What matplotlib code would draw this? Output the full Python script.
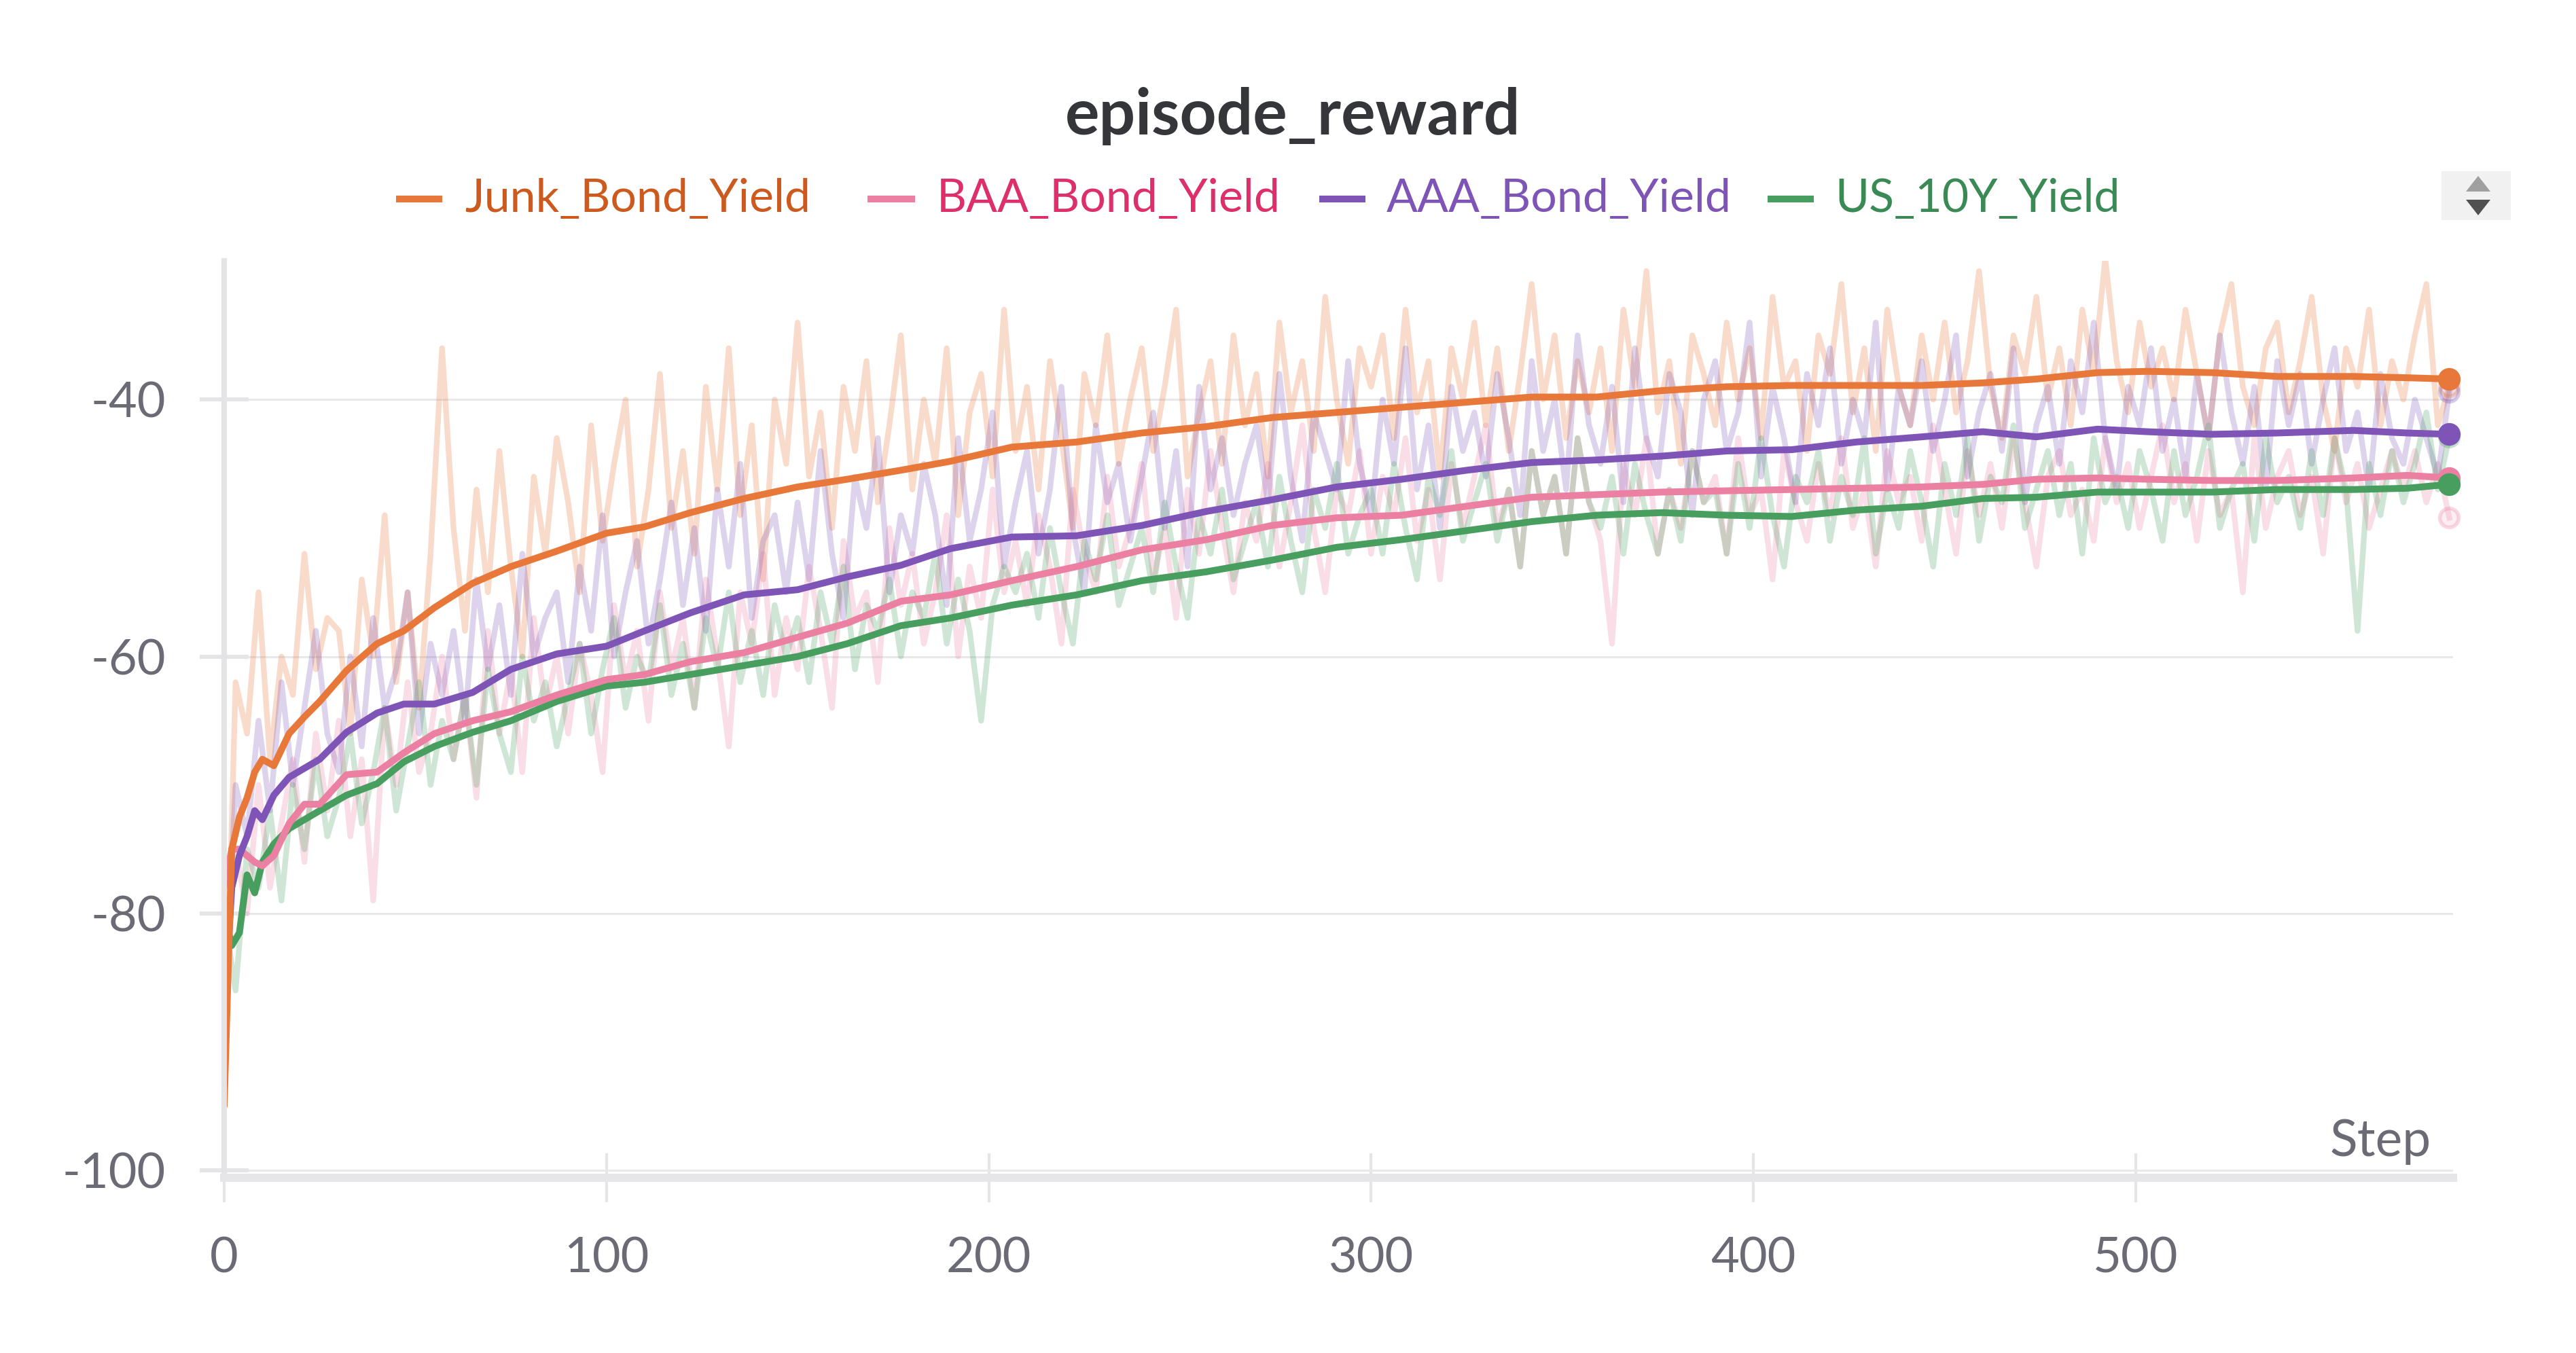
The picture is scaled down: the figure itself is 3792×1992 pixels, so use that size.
import matplotlib.pyplot as plt
from matplotlib.lines import Line2D
from matplotlib.patches import Rectangle, Polygon
from matplotlib.colors import to_rgba

plt.rcParams['font.family'] = ['Lato', 'DejaVu Sans']

# ---- data ----
series_names = ['Junk_Bond_Yield', 'BAA_Bond_Yield', 'AAA_Bond_Yield', 'US_10Y_Yield']

raw_steps = list(range(0, 583, 3))

junk_raw = [
    -95, -62, -66, -55, -68, -60, -63, -52, -61, -57,
    -58, -66, -54, -60, -49, -62, -55, -64, -52, -36,
    -50, -58, -47, -55, -44, -53, -60, -46, -52, -43,
    -48, -55, -42, -51, -45, -40, -53, -47, -38, -50,
    -44, -52, -39, -47, -36, -49, -42, -54, -40, -45,
    -34, -46, -41, -50, -39, -44, -37, -48, -42, -35,
    -47, -40, -45, -36, -49, -41, -38, -46, -33, -44,
    -39, -47, -37, -43, -50, -38, -42, -35, -45, -40,
    -36, -44, -39, -33, -46, -41, -37, -45, -35, -42,
    -38, -46, -34, -41, -37, -44, -32, -40, -45, -36,
    -39, -35, -43, -33, -41, -37, -46, -36, -40, -34,
    -42, -36, -44, -38, -31, -40, -35, -43, -37, -41,
    -36, -44, -33, -39, -30, -41, -37, -45, -35, -38,
    -42, -34, -40, -36, -43, -32, -39, -37, -44, -35,
    -38, -31, -41, -36, -44, -33, -39, -42, -35, -40,
    -34, -41, -37, -30, -39, -43, -35, -38, -32, -40,
    -36, -42, -33, -38, -29, -37, -41, -34, -39, -36,
    -40, -33, -38, -43, -35, -31, -39, -42, -36, -34,
    -41, -37, -32, -40, -44, -36, -39, -33, -42, -37,
    -40, -35, -31, -42, -39,
]
baa_raw = [
    -78, -75, -80, -70, -78, -73, -68, -76, -66, -72,
    -65, -74, -68, -79, -64, -70, -62, -69, -66, -60,
    -68, -63, -71, -58, -66, -61, -69, -57, -64, -60,
    -66, -59, -63, -69, -56, -62, -58, -65, -55, -61,
    -57, -64, -54, -60, -67, -55, -59, -52, -63, -57,
    -61, -53, -58, -64, -51, -57, -55, -62, -50, -56,
    -52, -59, -55, -49, -60, -53, -57, -47, -55, -51,
    -56, -49, -53, -59, -47, -52, -55, -46, -53, -50,
    -45, -54, -50, -57, -47, -52, -44, -50, -55, -48,
    -51, -45, -53, -48, -42, -50, -55, -47, -49, -44,
    -52, -46, -49, -43, -51, -47, -54, -45, -50, -46,
    -42, -50, -47, -53, -44, -49, -46, -52, -43, -48,
    -51, -59, -45, -49, -43, -52, -47, -50, -44, -48,
    -46, -52, -43, -49, -47, -54, -44, -48, -51, -45,
    -49, -43, -50, -47, -53, -44, -48, -46, -51, -42,
    -47, -52, -44, -49, -45, -50, -43, -48, -53, -46,
    -44, -49, -47, -51, -43, -48, -45, -50, -46, -42,
    -48, -45, -51, -44, -49, -47, -55, -43, -50, -46,
    -44, -49, -46, -52, -43, -48, -45, -50, -47, -44,
    -47, -44, -48, -45, -49.2,
]
aaa_raw = [
    -88, -70, -74, -65, -72, -62, -70, -64, -58, -66,
    -69, -60, -67, -57, -64, -61, -55, -66, -59, -63,
    -58, -65, -54, -61, -56, -63, -52, -60, -57, -55,
    -62, -53, -58, -49, -60, -55, -51, -59, -54, -48,
    -56, -50, -58, -47, -53, -45, -57, -51, -49, -55,
    -48, -54, -44, -52, -57, -46, -50, -43, -55, -49,
    -52, -45, -49, -56, -43, -51, -47, -41, -53, -48,
    -44, -52, -47, -39, -50, -55, -42, -48, -45, -51,
    -46, -41, -50, -44, -53, -39, -47, -43, -49, -45,
    -42, -48, -38, -46, -51, -41, -44, -47, -37, -45,
    -49, -40, -45, -36, -47, -42, -50, -39, -44, -41,
    -46, -38, -43, -49, -37, -44, -40, -47, -35, -42,
    -45, -39, -48, -36, -43, -46, -38, -41, -49, -40,
    -37, -44, -41, -34, -46, -39, -43, -48, -38, -42,
    -36, -45, -40, -43, -34, -47, -39, -42, -37, -44,
    -40, -35, -46, -41, -38, -44, -36, -48, -42, -39,
    -45, -37, -41, -34, -43, -47, -39, -42, -36, -44,
    -40, -46, -38, -43, -35, -41, -45, -39, -47, -37,
    -42, -38, -45, -40, -36, -44, -41, -47, -38, -43,
    -45, -40, -43, -46, -39.4,
]
us10y_raw = [
    -80, -86, -75, -78, -72, -79, -70, -75, -68, -74,
    -71, -66, -73, -69, -64, -72, -67, -62, -70, -65,
    -68, -63, -70, -61, -66, -69, -60, -65, -62, -67,
    -63, -59, -66, -61, -57, -64, -60, -62, -56, -63,
    -59, -64, -57, -61, -55, -62, -58, -63, -56, -60,
    -57, -62, -55, -59, -53, -61, -56, -58, -54, -60,
    -55, -57, -52, -59, -54, -58, -65, -56, -53, -55,
    -52, -57, -50, -55, -59, -51, -54, -49, -56, -53,
    -50, -55, -48, -53, -57, -49, -52, -47, -54, -51,
    -48, -53, -46, -51, -55, -47, -50, -45, -52, -49,
    -47, -52, -45, -50, -54, -46, -49, -44, -51, -48,
    -45, -51, -47, -53, -44, -49, -46, -52, -43, -48,
    -50, -46, -52, -45, -49, -52, -47, -51, -44, -48,
    -47, -52, -45, -50, -43, -49, -53, -46, -48, -44,
    -51, -46, -49, -43, -52, -47, -50, -44, -48, -53,
    -45, -49, -43, -51, -46, -48, -42, -50, -47, -44,
    -49, -45, -52, -43, -48, -46, -50, -44, -47, -51,
    -44, -49, -46, -42, -50, -47, -45, -51, -43, -48,
    -46, -50, -44, -49, -43, -47, -58, -45, -49, -44,
    -48, -45, -41, -47, -42.9,
]

smooth_steps = [0, 2, 4, 6, 8, 10, 13, 17, 21, 25, 32, 40, 47, 55, 65, 75, 87,
                100, 110, 122, 136, 150, 163, 177, 190, 206, 223, 240, 257, 274,
                291, 308, 325, 342, 359, 376, 393, 410, 427, 444, 460, 474, 490,
                503, 520, 537, 557, 571, 582]
junk_smooth = [-95, -75, -72.5, -71, -69, -68, -68.5, -66, -64.7, -63.5, -61.1, -59,
               -58, -56.2, -54.3, -53, -51.8, -50.4, -49.9, -48.8, -47.7, -46.8, -46.2,
               -45.5, -44.8, -43.7, -43.3, -42.6, -42.1, -41.4, -41, -40.6, -40.2, -39.8,
               -39.8, -39.3, -39.0, -38.9, -38.9, -38.9, -38.7, -38.4, -37.9, -37.8,
               -37.9, -38.2, -38.2, -38.3, -38.4]
baa_smooth = [-78, -75, -75, -75.5, -76, -76.3, -75.5, -73, -71.5, -71.5, -69.2, -69,
              -67.5, -66, -65, -64.3, -63, -61.8, -61.4, -60.4, -59.7, -58.5, -57.4,
              -55.7, -55.2, -54.1, -53, -51.7, -50.9, -49.8, -49.2, -49, -48.3, -47.6,
              -47.4, -47.2, -47.1, -47, -46.9, -46.8, -46.6, -46.2, -46.1, -46.2, -46.3,
              -46.3, -46.1, -45.9, -46.1]
aaa_smooth = [-88, -78, -75.5, -74, -72, -72.7, -70.8, -69.4, -68.7, -68, -65.9, -64.4,
              -63.7, -63.7, -62.8, -61, -59.8, -59.2, -58, -56.6, -55.2, -54.8, -53.8,
              -52.9, -51.6, -50.7, -50.6, -49.8, -48.7, -47.8, -46.8, -46.2, -45.5, -44.9,
              -44.7, -44.4, -44, -43.9, -43.3, -42.9, -42.5, -42.9, -42.3, -42.5, -42.7,
              -42.6, -42.4, -42.6, -42.7]
us10y_smooth = [-80, -82.5, -81.5, -77, -78.4, -76, -74.6, -73.4, -72.7, -72, -70.8,
                -69.9, -68.2, -67, -65.9, -65, -63.5, -62.3, -62, -61.4, -60.7, -60, -59,
                -57.6, -57, -56, -55.2, -54.1, -53.4, -52.5, -51.5, -50.9, -50.2, -49.5,
                -49, -48.8, -49, -49.1, -48.6, -48.3, -47.7, -47.6, -47.2, -47.2, -47.2,
                -47, -47, -46.9, -46.6]

x_ticks = [0, 100, 200, 300, 400, 500]
y_ticks = [-100, -80, -60, -40]
y_tick_labels = ['-100', '-80', '-60', '-40']

line_colors = ['#e8773a', '#ec80a3', '#7e55b6', '#479e5e']
text_colors = ['#cc5a1e', '#dd2f69', '#7e55b6', '#3a8a55']

raw_all = [junk_raw, baa_raw, aaa_raw, us10y_raw]
smooth_all = [junk_smooth, baa_smooth, aaa_smooth, us10y_smooth]

# ---- figure ----
fig = plt.figure(figsize=(18.96, 9.96), dpi=200)
ax = fig.add_axes([0.0870, 0.1295, 0.8653, 0.6777])

for raw, c in zip(raw_all, line_colors):
    ax.plot(raw_steps, raw, color=c, alpha=0.26, lw=3.0)

for i in [3, 1, 2, 0]:
    ax.plot(smooth_steps, smooth_all[i], color=line_colors[i], lw=3.6,
            solid_capstyle='round', solid_joinstyle='round')

# last-value markers
for raw, c in zip(raw_all, line_colors):
    ax.plot(raw_steps[-1], raw[-1], 'o', ms=10, mfc=to_rgba(c, 0.12),
            mec=to_rgba(c, 0.3), mew=2, clip_on=False)
for sm, c in zip(smooth_all, line_colors):
    ax.plot(smooth_steps[-1], sm[-1], 'o', ms=11, color=c, clip_on=False, zorder=5)

ax.set_xlim(0, 583)
ax.set_ylim(-100.58, -29.2)
ax.set_xticks(x_ticks)
ax.set_yticks(y_ticks)
ax.set_yticklabels(y_tick_labels)

ax.grid(axis='y', color='#e8e8ea', lw=1.1)
ax.set_axisbelow(True)
for s in ['top', 'right']:
    ax.spines[s].set_visible(False)
ax.spines['left'].set_color('#e4e4e7')
ax.spines['left'].set_linewidth(2.9)
ax.spines['bottom'].set_color('#e6e6e9')
ax.spines['bottom'].set_linewidth(4.3)

ax.tick_params(axis='y', direction='inout', length=26, width=2.2, color='#e5e5e8',
               pad=18, labelsize=26, labelcolor='#6b6b76')
ax.tick_params(axis='x', direction='inout', length=26, width=1.5, color='#e5e5e8',
               pad=18, labelsize=26, labelcolor='#6b6b76')

ax.text(0.99, 0.04, 'Step', transform=ax.transAxes, ha='right', va='center',
        fontsize=27, color='#6b6b76')

# title
fig.text(0.502, 0.914, 'episode_reward', ha='center', va='center', fontsize=34,
         fontweight='bold', color='#35363a')

# legend placed by hand
leg_y = 0.853
handle_x = [(0.1550, 0.1703), (0.3380, 0.3540), (0.5134, 0.5287), (0.6875, 0.7028)]
text_x = [0.1805, 0.3635, 0.5383, 0.7124]
for name, c, tc, hx, tx in zip(series_names, line_colors, text_colors, handle_x, text_x):
    fig.add_artist(Line2D(hx, [leg_y, leg_y], color=c, lw=3.6, transform=fig.transFigure))
    fig.text(tx, leg_y, name, ha='left', va='center', fontsize=24.5, color=tc)

# little scroll widget at the right of the legend
W, H = 3792, 1992
fig.add_artist(Rectangle((3594 / W, 1 - 324 / H), 102 / W, 72 / H,
                         transform=fig.transFigure, facecolor='#f1f1f1', edgecolor='none'))
fig.add_artist(Polygon([(3630 / W, 1 - 282 / H), (3666 / W, 1 - 282 / H), (3648 / W, 1 - 259 / H)],
                       closed=True, transform=fig.transFigure, facecolor='#a0a0a0', edgecolor='none'))
fig.add_artist(Polygon([(3630 / W, 1 - 294 / H), (3666 / W, 1 - 294 / H), (3648 / W, 1 - 317 / H)],
                       closed=True, transform=fig.transFigure, facecolor='#505050', edgecolor='none'))

fig.savefig('out.png', dpi=200)
